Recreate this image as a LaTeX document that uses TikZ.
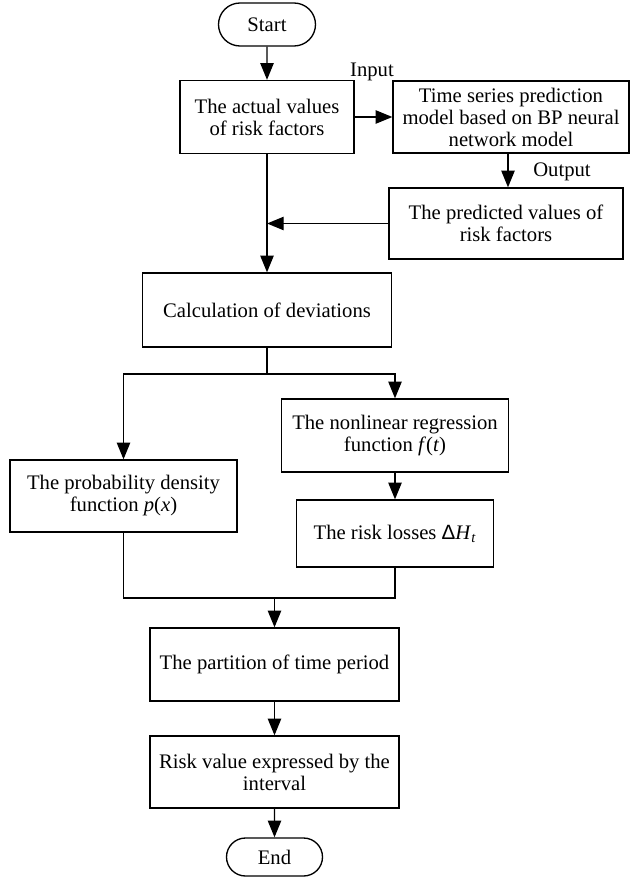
\documentclass[tikz,border=0pt]{standalone}
\usepackage{fontspec}
\setmainfont{Liberation Serif}
\setsansfont{Liberation Sans}
\usetikzlibrary{arrows.meta,shapes.misc}
\begin{document}
\begin{tikzpicture}[x=0.75pt,y=-0.75pt,
  every node/.style={font=\fontsize{15.5}{16.5}\selectfont},
  box/.style={draw,line width=1pt,rectangle,align=center,inner sep=0pt},
  term/.style={draw,line width=1pt,rounded rectangle,align=center,inner sep=0pt},
  lbl/.style={inner sep=0pt},
  arr/.style={line width=1pt,-{Triangle[length=12.5pt,width=10pt]}},
  ln/.style={line width=1pt}]
\useasboundingbox (0,0) rectangle (638,877);
\node[term,minimum width=72.75pt,minimum height=32.25pt] (start) at (267,24.5) {Start};
\node[box,minimum width=130.5pt,minimum height=54.75pt] (b1) at (267,117) {The actual values\\of risk factors};
\node[box,minimum width=177pt,minimum height=54pt] (b2) at (511,117) {Time series prediction\\model based on BP neural\\network model};
\node[box,minimum width=175.5pt,minimum height=53.25pt] (b3) at (506,223.5) {The predicted values of\\risk factors};
\node[box,minimum width=186.75pt,minimum height=55.5pt] (b4) at (267,310) {Calculation of deviations};
\node[box,minimum width=170.25pt,minimum height=54pt] (b5) at (123.5,496) {The probability density\\function \textit{p}(\textit{x})};
\node[box,minimum width=170.25pt,minimum height=54.75pt] (b6) at (395,435.5) {The nonlinear regression\\function \textit{f}(\textit{t})};
\node[box,minimum width=147.75pt,minimum height=50.25pt] (b7) at (395,533.5) {The risk losses {\sffamily Δ}\textit{H}\textsubscript{\textit{t}}};
\node[box,minimum width=186.75pt,minimum height=54.75pt] (b8) at (274.5,664.5) {The partition of time period};
\node[box,minimum width=186.75pt,minimum height=54pt] (b9) at (274.5,772) {Risk value expressed by the\\interval};
\node[term,minimum width=72pt,minimum height=28.5pt] (end) at (274.5,857) {End};
\node[lbl] (inp) at (372,72) {Input};
\node[lbl] (outp) at (562,172) {Output};
\coordinate (sp) at (267,374);
\coordinate (mg) at (274.5,598);
\draw[arr] (start) -- (b1);
\draw[arr] (b1) -- (b2);
\draw[arr] (b2.south -| 508,0) -- (508,0 |- b3.north);
\draw[arr] (b3.west) -- (b1.south |- b3.west);
\draw[arr] (b1.south) -- (b4.north);
\draw[ln] (b4.south) -- (sp);
\draw[arr] (sp) -| (b5.north);
\draw[arr] (sp) -| (b6.north);
\draw[arr] (b6) -- (b7);
\draw[ln] (b5.south) |- (b7.south |- mg) -- (b7.south);
\draw[arr] (mg) -- (b8.north);
\draw[arr] (b8) -- (b9);
\draw[arr] (b9) -- (end);
\end{tikzpicture}
\end{document}
